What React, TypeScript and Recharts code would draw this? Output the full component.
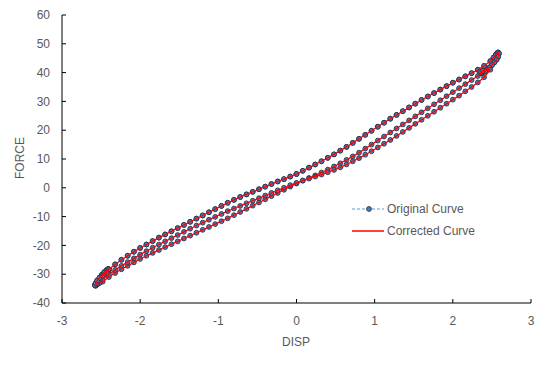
import React from 'react';
import { ScatterChart, Scatter, XAxis, YAxis } from 'recharts';

const GRID_X = [
  -2.48, -2.4, -2.32, -2.24, -2.16, -2.08, -2.0, -1.92, -1.84, -1.76, -1.68, -1.6, -1.52, -1.44, -1.36, -1.28,
  -1.2, -1.12, -1.04, -0.96, -0.88, -0.8, -0.72, -0.64, -0.56, -0.48, -0.4, -0.32, -0.24, -0.16, -0.08, 0.0,
  0.08, 0.16, 0.24, 0.32, 0.4, 0.48, 0.56, 0.64, 0.72, 0.8, 0.88, 0.96, 1.04, 1.12, 1.2, 1.28,
  1.36, 1.44, 1.52, 1.6, 1.68, 1.76, 1.84, 1.92, 2.0, 2.08, 2.16, 2.24, 2.32, 2.4, 2.48,
];

// upper branch (loading to the right)
const UPPER_Y = [
  -30.5, -28.3, -26.6, -25.0, -23.6, -22.2, -20.9, -19.7, -18.5, -17.3, -16.2, -15.1, -14.0, -12.9, -11.8, -10.7,
  -9.6, -8.5, -7.4, -6.3, -5.2, -4.2, -3.2, -2.3, -1.4, -0.5, 0.4, 1.3, 2.2, 3.0, 3.9, 4.8,
  5.9, 7.0, 8.1, 9.2, 10.4, 11.6, 12.9, 14.2, 15.6, 17.0, 18.4, 19.8, 21.2, 22.6, 24.0, 25.3,
  26.6, 27.9, 29.2, 30.5, 31.7, 32.9, 34.1, 35.3, 36.5, 37.6, 38.7, 39.8, 41.0, 42.3, 44.0,
];

// lower branch, first reversal (leftwards)
const LOWER_Y = [
  -32.6, -31.0, -29.6, -28.3, -27.1, -25.9, -24.7, -23.6, -22.6, -21.6, -20.6, -19.6, -18.6, -17.6, -16.6, -15.6,
  -14.6, -13.6, -12.6, -11.6, -10.6, -9.5, -8.4, -7.3, -6.2, -5.1, -4.0, -2.9, -1.8, -0.7, 0.4, 1.5,
  2.5, 3.4, 4.3, 5.3, 6.3, 7.4, 8.5, 9.7, 10.9, 12.2, 13.6, 15.0, 16.4, 17.8, 19.2, 20.6,
  22.0, 23.4, 24.8, 26.2, 27.6, 29.0, 30.4, 31.8, 33.2, 34.6, 36.0, 37.4, 38.8, 40.3, 42.0,
];

// middle branch, second reversal (leftwards)
const MIDDLE_Y = [
  -31.8, -30.0, -28.5, -27.1, -25.8, -24.5, -23.2, -22.0, -20.8, -19.7, -18.6, -17.5, -16.4, -15.3, -14.2, -13.1,
  -12.1, -11.1, -10.1, -9.1, -8.1, -7.2, -6.3, -5.4, -4.5, -3.6, -2.7, -1.8, -0.9, 0.0, 0.9, 1.7,
  2.5, 3.2, 3.9, 4.6, 5.4, 6.2, 7.1, 8.1, 9.2, 10.3, 11.5, 12.7, 14.0, 15.3, 16.6, 18.0,
  19.4, 20.8, 22.2, 23.6, 25.0, 26.4, 27.8, 29.2, 30.6, 32.0, 33.5, 35.0, 36.6, 38.4, 41.0,
];

const TOP_TIP_X = [2.52, 2.55, 2.57, 2.58, 2.59, 2.58, 2.56, 2.53, 2.5, 2.47, 2.44, 2.41, 2.38, 2.36, 2.35, 2.36, 2.38];
const TOP_TIP_Y = [45.2, 46.2, 46.8, 47.0, 46.6, 45.5, 44.5, 43.5, 42.6, 41.8, 41.0, 40.4, 40.0, 39.8, 39.9, 40.3, 40.6];

const BOT_TIP_X = [-2.52, -2.55, -2.57, -2.58, -2.57, -2.55, -2.52, -2.49, -2.46, -2.43, -2.41, -2.4, -2.41, -2.43, -2.46, -2.48];
const BOT_TIP_Y = [-33.0, -33.6, -34.0, -33.8, -33.2, -32.2, -31.2, -30.2, -29.3, -28.6, -28.2, -28.4, -29.0, -29.6, -30.2, -30.6];

const X_TICKS = [-3, -2, -1, 0, 1, 2, 3];
const Y_TICKS = [-40, -30, -20, -10, 0, 10, 20, 30, 40, 50, 60];

type P = { x: number; y: number };
const zip = (xs: number[], ys: number[]): P[] => xs.map((x, i) => ({ x, y: ys[i] }));
const rightward = (ys: number[], from = 0) => zip(GRID_X, ys).slice(from);
const leftward = (ys: number[]) => zip(GRID_X, ys).reverse();
const topTip = zip(TOP_TIP_X, TOP_TIP_Y);
const botTip = zip(BOT_TIP_X, BOT_TIP_Y);

const originalPath: P[] = [
  ...rightward(UPPER_Y, 31),
  ...topTip,
  ...leftward(LOWER_Y),
  ...botTip,
  ...rightward(UPPER_Y),
  ...topTip,
  ...leftward(MIDDLE_Y),
  ...botTip,
  ...rightward(UPPER_Y).slice(0, 32),
];
const correctedPath: P[] = originalPath.map((p) => ({ ...p }));

const FONT = '"Liberation Sans", Arial, sans-serif';
const TEXT = '#595959';
const MARK_FILL = '#4F7DB3';
const MARK_STROKE = '#1F3550';

const Marker = (props: any) => {
  const { cx, cy } = props;
  if (cx == null || cy == null) return <g />;
  return <circle cx={cx} cy={cy} r={2.4} fill={MARK_FILL} stroke={MARK_STROKE} strokeWidth={0.9} />;
};
const NoMarker = () => <g />;

export default function App() {
  return (
    <div style={{ position: 'absolute', left: 0, top: 0, width: 546, height: 365, background: '#fff' }}>
      <ScatterChart width={546} height={365} margin={{ top: 15, right: 15, bottom: 32, left: 32 }}>
        <XAxis
          type="number"
          dataKey="x"
          domain={[-3, 3]}
          ticks={X_TICKS}
          allowDataOverflow
          height={30}
          stroke="#000"
          tickSize={-4}
          tickMargin={17}
          tick={{ fill: TEXT, fontSize: 12, fontFamily: FONT }}
        />
        <YAxis
          type="number"
          dataKey="y"
          domain={[-40, 60]}
          ticks={Y_TICKS}
          allowDataOverflow
          width={30}
          stroke="#000"
          tickSize={-4}
          tickMargin={16}
          tick={{ fill: TEXT, fontSize: 12, fontFamily: FONT }}
        />
        <Scatter
          data={originalPath}
          isAnimationActive={false}
          line={{ stroke: '#5B9BD5', strokeWidth: 0.75, strokeDasharray: '3 2' }}
          lineJointType="linear"
          shape={Marker}
        />
        <Scatter
          data={correctedPath}
          isAnimationActive={false}
          line={{ stroke: '#FF0000', strokeWidth: 1.25 }}
          lineJointType="linear"
          shape={NoMarker}
        />
      </ScatterChart>
      <div
        style={{
          position: 'absolute', left: 20, top: 158, transform: 'translate(-50%, -50%) rotate(-90deg)',
          fontFamily: FONT, fontSize: 12, color: TEXT, whiteSpace: 'nowrap',
        }}
      >
        FORCE
      </div>
      <div
        style={{
          position: 'absolute', left: 296, top: 342, transform: 'translate(-50%, -50%)',
          fontFamily: FONT, fontSize: 12, color: TEXT, whiteSpace: 'nowrap',
        }}
      >
        DISP
      </div>
      <div style={{ position: 'absolute', left: 350, top: 199, fontFamily: FONT, fontSize: 12, color: TEXT }}>
        <div style={{ display: 'flex', alignItems: 'center', height: 20 }}>
          <svg width={36} height={10} style={{ marginRight: 1 }}>
            <line x1={2} x2={34} y1={5} y2={5} stroke="#5B9BD5" strokeWidth={1} strokeDasharray="3 2" />
            <circle cx={19} cy={5} r={2.4} fill={MARK_FILL} stroke={MARK_STROKE} strokeWidth={0.9} />
          </svg>
          <span>Original Curve</span>
        </div>
        <div style={{ display: 'flex', alignItems: 'center', height: 24 }}>
          <svg width={36} height={10} style={{ marginRight: 1 }}>
            <line x1={2} x2={34} y1={5} y2={5} stroke="#FF0000" strokeWidth={1.5} />
          </svg>
          <span>Corrected Curve</span>
        </div>
      </div>
    </div>
  );
}
